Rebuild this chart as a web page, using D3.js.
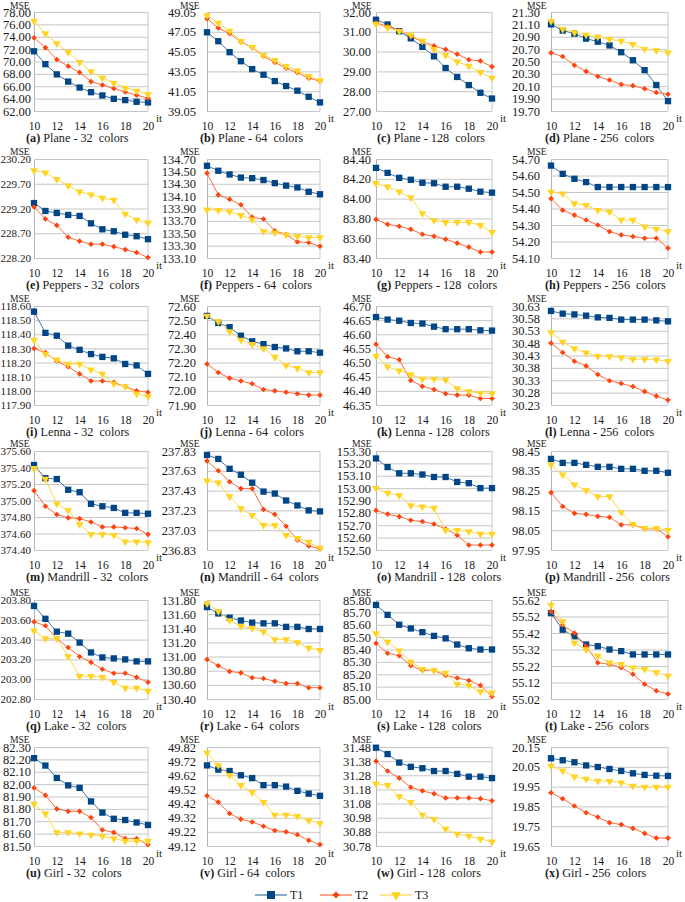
<!DOCTYPE html>
<html><head><meta charset="utf-8">
<script src="https://cdn.jsdelivr.net/npm/d3@7"></script>
<style>
body{margin:0;background:#fff;}
svg text{font-family:"Liberation Serif","Times New Roman",serif;fill:#1a1a1a;}
</style></head>
<body><svg id="chart" width="685" height="902"></svg>
<script>
// ---------------- DATA ----------------
const iterations = [10,11,12,13,14,15,16,17,18,19,20];
const xTickValues = [10,12,14,16,18,20];
const seriesNames = ["T1","T2","T3"];
const panelLetters = ["a","b","c","d","e","f","g","h","i","j","k","l","m","n","o","p","q","r","s","t","u","v","w","x"];
const imageNames = ["Plane","Peppers","Lenna","Mandrill","Lake","Girl"];
const colorCounts = [32,64,128,256];

// y-axis tick ranges per panel (a..x)
const yMin  = [62,39.05,27,19.70, 228.20,133.10,83.40,54.10, 117.90,71.90,46.35,30.23, 374.40,236.83,152.50,97.95, 202.80,130.40,85.00,55.02, 81.50,49.12,30.78,19.65];
const yMax  = [78,49.05,32,21.30, 230.20,134.70,84.40,54.70, 118.60,72.60,46.70,30.63, 375.60,237.83,153.30,98.45, 203.80,131.80,85.80,55.62, 82.30,49.82,31.48,20.15];
const yStep = [2,2,1,0.2, 0.5,0.2,0.2,0.1, 0.1,0.1,0.05,0.05, 0.2,0.2,0.1,0.1, 0.2,0.2,0.1,0.1, 0.1,0.1,0.1,0.1];

const T1 = [
 [71.65,69.57,67.92,66.75,65.79,65.04,64.51,63.97,63.76,63.49,63.39],
 [47.00,46.10,44.99,44.08,43.28,42.71,42.07,41.57,41.10,40.49,39.92],
 [31.61,31.37,31.03,30.67,30.24,29.76,29.17,28.72,28.31,27.92,27.63],
 [21.10,21.00,20.95,20.87,20.82,20.76,20.65,20.52,20.36,20.12,19.86],
 [229.31,229.15,229.11,229.07,229.05,228.90,228.78,228.74,228.67,228.64,228.58],
 [134.59,134.51,134.45,134.40,134.39,134.36,134.31,134.27,134.24,134.17,134.13],
 [84.31,84.26,84.21,84.19,84.16,84.155,84.12,84.12,84.10,84.07,84.06],
 [54.66,54.61,54.58,54.56,54.53,54.53,54.53,54.53,54.53,54.53,54.53],
 [118.56,118.41,118.39,118.32,118.29,118.26,118.24,118.23,118.19,118.18,118.12],
 [72.53,72.48,72.45,72.39,72.35,72.33,72.31,72.30,72.28,72.28,72.27],
 [46.661,46.652,46.648,46.640,46.638,46.627,46.618,46.618,46.618,46.614,46.613],
 [30.610,30.599,30.596,30.591,30.584,30.582,30.575,30.575,30.575,30.572,30.568],
 [375.43,375.27,375.26,375.13,375.10,374.96,374.93,374.91,374.85,374.85,374.84],
 [237.79,237.75,237.65,237.59,237.51,237.42,237.40,237.33,237.28,237.23,237.22],
 [153.24,153.17,153.12,153.12,153.11,153.09,153.09,153.05,153.04,153.00,153.00],
 [98.41,98.39,98.39,98.38,98.37,98.37,98.36,98.36,98.35,98.35,98.34],
 [203.74,203.61,203.48,203.46,203.37,203.27,203.22,203.21,203.20,203.18,203.18],
 [131.70,131.61,131.55,131.51,131.48,131.47,131.47,131.42,131.42,131.39,131.39],
 [85.76,85.68,85.60,85.57,85.54,85.51,85.49,85.44,85.41,85.40,85.40],
 [55.54,55.44,55.40,55.35,55.34,55.32,55.31,55.29,55.29,55.29,55.29],
 [82.21,82.15,82.05,81.99,81.97,81.86,81.77,81.72,81.71,81.69,81.67],
 [49.69,49.66,49.65,49.62,49.60,49.55,49.55,49.54,49.51,49.49,49.475],
 [31.475,31.43,31.37,31.34,31.33,31.31,31.31,31.29,31.27,31.27,31.26],
 [20.093,20.083,20.073,20.057,20.049,20.039,20.029,20.017,20.009,20.005,20.004]
];
const T2 = [
 [73.84,72.24,70.32,69.25,68.24,66.75,66.21,65.63,65.09,64.56,64.08],
 [48.38,47.44,46.87,46.03,45.46,44.59,43.95,43.38,42.91,42.37,42.07],
 [31.45,31.28,31.06,30.77,30.50,30.29,30.11,29.87,29.59,29.53,29.24],
 [20.64,20.58,20.44,20.34,20.26,20.20,20.13,20.11,20.06,20.00,19.97],
 [229.23,228.99,228.86,228.62,228.54,228.48,228.48,228.43,228.37,228.31,228.21],
 [134.47,134.12,134.05,133.96,133.76,133.73,133.54,133.48,133.36,133.35,133.29],
 [83.79,83.74,83.72,83.69,83.64,83.62,83.59,83.55,83.51,83.46,83.46],
 [54.46,54.39,54.36,54.33,54.30,54.26,54.24,54.23,54.22,54.22,54.16],
 [118.30,118.27,118.21,118.17,118.12,118.07,118.07,118.06,118.03,118.00,117.99],
 [72.19,72.13,72.09,72.07,72.05,72.01,72.00,71.99,71.98,71.97,71.97],
 [46.565,46.521,46.510,46.437,46.416,46.405,46.390,46.385,46.385,46.373,46.373],
 [30.480,30.442,30.407,30.388,30.353,30.328,30.317,30.305,30.285,30.266,30.250],
 [375.12,374.93,374.83,374.79,374.78,374.74,374.68,374.68,374.67,374.66,374.59],
 [237.73,237.63,237.52,237.45,237.45,237.24,237.19,237.07,236.93,236.87,236.84],
 [152.82,152.79,152.77,152.74,152.73,152.71,152.67,152.62,152.54,152.54,152.54],
 [98.24,98.17,98.135,98.13,98.12,98.115,98.077,98.077,98.057,98.057,98.017],
 [203.58,203.54,203.41,203.32,203.23,203.17,203.10,203.06,203.06,203.02,202.97],
 [130.96,130.87,130.79,130.77,130.70,130.69,130.65,130.62,130.62,130.56,130.56],
 [85.45,85.37,85.35,85.27,85.23,85.23,85.19,85.17,85.15,85.11,85.02],
 [55.55,55.47,55.42,55.34,55.24,55.23,55.21,55.17,55.11,55.07,55.05],
 [81.97,81.91,81.80,81.78,81.78,81.73,81.63,81.61,81.56,81.56,81.51],
 [49.475,49.43,49.35,49.31,49.29,49.26,49.23,49.22,49.20,49.16,49.13],
 [31.38,31.31,31.26,31.195,31.17,31.15,31.12,31.12,31.12,31.115,31.10],
 [19.919,19.889,19.852,19.818,19.796,19.768,19.758,19.739,19.714,19.690,19.690]
];
const T3 = [
 [76.56,74.53,72.93,71.50,69.90,68.40,67.33,66.53,65.73,65.25,64.72],
 [48.71,47.94,47.14,46.10,45.49,44.69,44.18,43.58,43.11,42.57,42.14],
 [31.40,31.20,31.03,30.84,30.53,30.12,29.82,29.49,29.27,28.96,28.67],
 [21.15,21.02,20.97,20.93,20.90,20.86,20.83,20.78,20.70,20.68,20.64],
 [229.97,229.92,229.79,229.66,229.54,229.48,229.41,229.37,229.09,228.97,228.91],
 [133.88,133.87,133.85,133.79,133.72,133.53,133.51,133.47,133.45,133.43,133.43],
 [84.155,84.12,84.07,84.01,83.85,83.78,83.76,83.76,83.76,83.73,83.66],
 [54.50,54.49,54.43,54.42,54.39,54.38,54.33,54.33,54.29,54.275,54.26],
 [118.36,118.26,118.22,118.19,118.19,118.15,118.12,118.05,118.03,117.98,117.96],
 [72.53,72.49,72.42,72.36,72.33,72.30,72.24,72.18,72.16,72.13,72.13],
 [46.523,46.485,46.471,46.458,46.442,46.442,46.438,46.408,46.398,46.392,46.391],
 [30.523,30.485,30.458,30.441,30.427,30.426,30.422,30.415,30.415,30.413,30.407],
 [375.39,375.26,374.96,374.88,374.71,374.59,374.59,374.58,374.50,374.50,374.49],
 [237.53,237.51,237.37,237.25,237.18,237.08,237.08,236.98,236.95,236.91,236.85],
 [153.00,152.96,152.94,152.86,152.85,152.84,152.66,152.66,152.65,152.63,152.63],
 [98.38,98.33,98.28,98.25,98.22,98.22,98.14,98.08,98.06,98.06,98.05],
 [203.49,203.41,203.41,203.23,203.03,203.03,203.02,202.97,202.91,202.91,202.88],
 [131.75,131.64,131.51,131.43,131.40,131.35,131.24,131.24,131.20,131.12,131.09],
 [85.53,85.46,85.39,85.30,85.24,85.23,85.21,85.12,85.11,85.06,85.05],
 [55.59,55.49,55.36,55.32,55.28,55.24,55.23,55.21,55.20,55.18,55.16],
 [81.84,81.76,81.61,81.61,81.60,81.59,81.58,81.56,81.54,81.54,81.54],
 [49.78,49.69,49.62,49.55,49.50,49.43,49.34,49.34,49.33,49.30,49.28],
 [31.22,31.21,31.13,31.09,31.00,30.97,30.90,30.865,30.85,30.83,30.81],
 [20.054,20.030,20.000,19.988,19.978,19.977,19.970,19.953,19.948,19.948,19.948]
];

// ---------------- LAYOUT / STYLE ----------------
const seriesColors = ["#004586","#ff420e","#ffd320"];
const lineColors = ["#3f73a8","#ff6a3d","#ffd84a"];
const colX = [[34,148],[207,320],[376,492],[551,668]];
const rowY = [[12,111],[159,258],[306,405],[451,550],[600,699],[747,846]];
const tickPad = [3,11,5,11];
const mseX = [10,180,352,527];
const capX = [26,200,377,545];
const gridColor = "#c6c6c6";
const yTickFont = 12.5;

const svg = d3.select("#chart");
const fmt = d3.format(".2f");

function markerPath(si, scale){
  if(si===0) return d3.symbol().type(d3.symbolSquare).size(40*scale)();
  if(si===1) return d3.symbol().type(d3.symbolDiamond2).size(20*scale)();
  return d3.symbol().type(d3.symbolTriangle).size(26*scale)();
}

const allSeries = [T1,T2,T3];

panelLetters.forEach((letter, p) => {
  const r = Math.floor(p/4), c = p%4;
  const [x0,x1] = colX[c];
  const [yTop,yBot] = rowY[r];
  const x = d3.scaleLinear().domain([10,20]).range([x0,x1]);
  const y = d3.scaleLinear().domain([yMin[p],yMax[p]]).range([yBot,yTop]);
  const n = Math.round((yMax[p]-yMin[p])/yStep[p]);
  const ticks = d3.range(n+1).map(i => yMin[p]+i*yStep[p]);
  const g = svg.append("g");

  // y axis with gridlines
  const ya = g.append("g").attr("transform",`translate(${x0},0)`)
    .call(d3.axisLeft(y).tickValues(ticks).tickFormat(fmt)
      .tickSize(-(x1-x0)).tickSizeOuter(0).tickPadding(tickPad[c]));
  ya.select(".domain").attr("stroke","#b3b3b3");
  ya.selectAll(".tick line").attr("stroke",gridColor);
  ya.selectAll(".tick text").attr("font-size",yTickFont).attr("font-family",null)
    .each(function(){
      // shrink labels that would run off the left edge of the page
      const avail = x0 - tickPad[c] - 0.5;
      const w = this.getComputedTextLength();
      if (w > avail) d3.select(this).attr("font-size", yTickFont*avail/w);
    });

  // right border line
  g.append("line").attr("x1",x(20)).attr("x2",x(20)).attr("y1",y(yMax[p])).attr("y2",y(yMin[p]))
    .attr("stroke",gridColor);

  // x axis labels
  const xa = g.append("g").attr("transform",`translate(0,${yBot})`)
    .call(d3.axisBottom(x).tickValues(xTickValues).tickFormat(d3.format("d")).tickSize(0).tickPadding(11));
  xa.select(".domain").remove();
  xa.selectAll(".tick text").attr("font-size",11.6).attr("font-family",null).attr("dy",null).attr("y",18.6);

  // labels
  g.append("text").attr("x",mseX[c]).attr("y",Math.max(yTop-4,8.6)).attr("font-size",9.6).text("MSE");
  g.append("text").attr("x",x1+8).attr("y",yBot+11).attr("font-size",11).text("it");
  const cap = g.append("text").attr("x",capX[c]).attr("y",yBot+30.5).attr("font-size",12.2)
    .style("white-space","pre");
  cap.append("tspan").attr("font-weight","bold").text(`(${letter})`);
  cap.append("tspan").text(` ${imageNames[r]} - ${colorCounts[c]}  colors`);

  // series
  const line = d3.line().x((d,i)=>x(iterations[i])).y(d=>y(d));
  allSeries.forEach((S, si) => {
    const vals = S[p];
    g.append("path").attr("d",line(vals)).attr("fill","none")
      .attr("stroke",lineColors[si]).attr("stroke-width",1);
    g.selectAll(null).data(vals).enter().append("path")
      .attr("d", markerPath(si,1))
      .attr("transform",(d,i)=>`translate(${x(iterations[i])},${y(d)})${si===2?" rotate(180)":""}`)
      .attr("fill",seriesColors[si]);
  });
});

// legend
const legendX = [255,320,380];
const legendY = 895;
seriesNames.forEach((name, si) => {
  const lx = legendX[si];
  const lg = svg.append("g");
  lg.append("line").attr("x1",lx).attr("x2",lx+32).attr("y1",legendY).attr("y2",legendY)
    .attr("stroke",lineColors[si]).attr("stroke-width",1.2);
  lg.append("path").attr("d",markerPath(si,1.6))
    .attr("transform",`translate(${lx+16},${legendY})${si===2?" rotate(180)":""}`)
    .attr("fill",seriesColors[si]);
  lg.append("text").attr("x",lx+35).attr("y",legendY+3.5).attr("font-size",12).text(name);
});
</script></body></html>
